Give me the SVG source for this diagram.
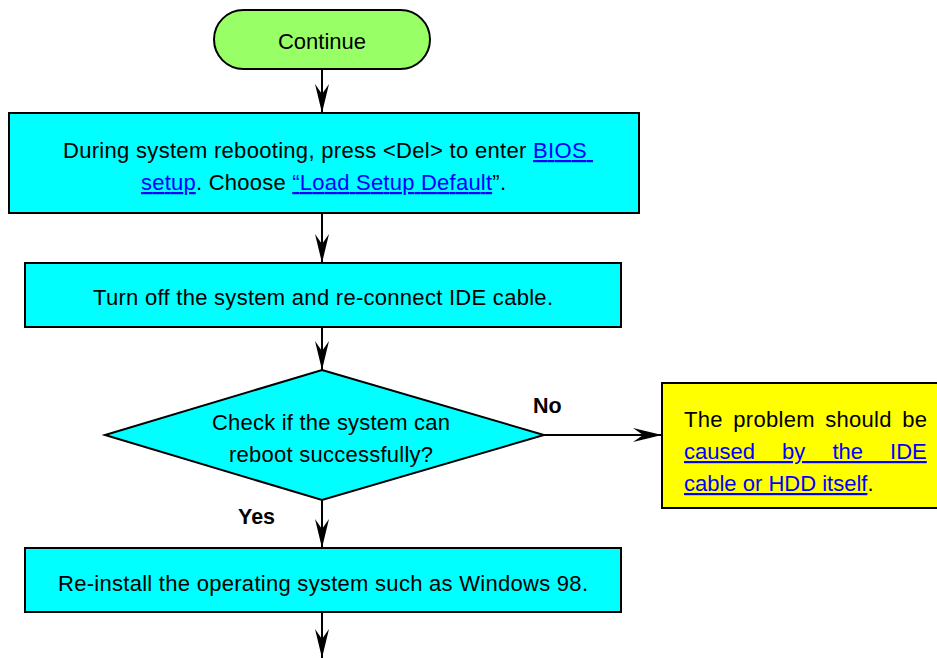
<svg xmlns="http://www.w3.org/2000/svg" width="937" height="658" viewBox="0 0 937 658">
<style>
text{font-family:"Liberation Sans",Arial,sans-serif;font-size:22px;fill:#000}
.b{font-weight:bold;font-size:21.5px}
.lk{fill:#0000FF;text-decoration:underline}
.box{stroke:#000;stroke-width:2}
.cy{fill:#00FFFF}
.conn{stroke:#000;stroke-width:2;fill:none;marker-end:url(#ah)}
</style>
<defs>
<marker id="ah" markerUnits="userSpaceOnUse" viewBox="-30 -8 31 16" markerWidth="31" markerHeight="16" refX="0" refY="0" orient="auto">
<path d="M0,0 L-29,-7 L-19,0 L-29,7 Z" fill="#000"/>
</marker>
</defs>
<rect width="937" height="658" fill="#fff"/>
<g id="connectors">
<line class="conn" x1="322" y1="69" x2="322" y2="113"/>
<line class="conn" x1="322" y1="213" x2="322" y2="263"/>
<line class="conn" x1="322" y1="327" x2="322" y2="370"/>
<line class="conn" x1="544" y1="435" x2="662" y2="435"/>
<line class="conn" x1="322" y1="500" x2="322" y2="548"/>
<line class="conn" x1="322" y1="612" x2="322" y2="658"/>
</g>
<g id="continue">
<rect class="box" x="214" y="10" width="216" height="59" rx="29.5" fill="#99FF66"/>
<text x="322" y="49" text-anchor="middle">Continue</text>
</g>
<g id="bios">
<rect class="box cy" x="9" y="113" width="630" height="100"/>
<text x="63" y="158" textLength="530" lengthAdjust="spacing" xml:space="preserve">During system rebooting, press &lt;Del&gt; to enter <tspan class="lk">BIOS </tspan></text>
<text x="141" y="190" textLength="365" lengthAdjust="spacing"><tspan class="lk">setup</tspan>. Choose <tspan class="lk">“Load Setup Default</tspan>”.</text>
</g>
<g id="reconnect">
<rect class="box cy" x="25" y="263" width="596" height="64"/>
<text x="323" y="305" text-anchor="middle" textLength="460" lengthAdjust="spacing">Turn off the system and re-connect IDE cable.</text>
</g>
<g id="check">
<polygon class="box cy" points="322,370 544,435 322,500 105,435"/>
<text x="331" y="430" text-anchor="middle" textLength="238" lengthAdjust="spacing">Check if the system can</text>
<text x="331" y="462" text-anchor="middle" textLength="204" lengthAdjust="spacing">reboot successfully?</text>
</g>
<g id="labels">
<text class="b" x="533" y="413">No</text>
<text class="b" x="238" y="524">Yes</text>
</g>
<g id="problem">
<rect class="box" x="662" y="383" width="290" height="125" fill="#FFFF00"/>
<text x="684" y="427" textLength="243" lengthAdjust="spacing" word-spacing="4">The problem should be</text>
<text x="684" y="459" word-spacing="21"><tspan class="lk">caused by the IDE</tspan></text>
<text x="684" y="491"><tspan class="lk">cable or HDD itself</tspan>.</text>
</g>
<g id="reinstall">
<rect class="box cy" x="25" y="548" width="596" height="64"/>
<text x="323" y="591" text-anchor="middle" textLength="530" lengthAdjust="spacing">Re-install the operating system such as Windows 98.</text>
</g>
</svg>
